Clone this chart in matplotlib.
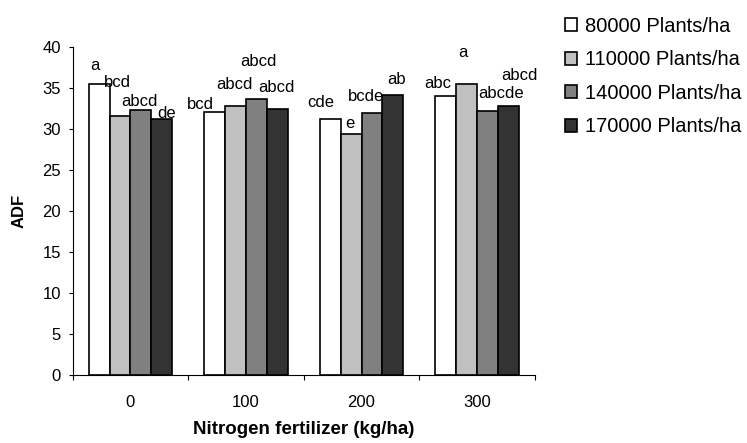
import matplotlib
matplotlib.use("Agg")
import matplotlib.pyplot as plt
import numpy as np

plt.rcParams['font.family'] = ['Liberation Sans', 'DejaVu Sans']

# nitrogen levels (kg/ha)
nitrogen = ["0", "100", "200", "300"]

# ADF per plant density
series_names = ["80000 Plants/ha", "110000 Plants/ha", "140000 Plants/ha", "170000 Plants/ha"]
adf_80 = [35.5, 32.1, 31.2, 34.1]
adf_110 = [31.6, 32.9, 29.4, 35.5]
adf_140 = [32.4, 33.7, 32.0, 32.2]
adf_170 = [31.2, 32.5, 34.2, 32.8]

# significance letters
let_80 = ["a", "bcd", "cde", "abc"]
let_110 = ["bcd", "abcd", "e", "a"]
let_140 = ["abcd", "abcd", "bcde", "abcde"]
let_170 = ["de", "abcd", "ab", "abcd"]

series = [adf_80, adf_110, adf_140, adf_170]
letters = [let_80, let_110, let_140, let_170]
colors = ["white", "#c0c0c0", "#808080", "#333333"]

# label offsets from bar top (pixels) - placed by hand in the original
offs = [
    [(-4.5, 19), (-14, 7.7), (-9.3, 17), (-8.6, 12.4)],
    [(-3, 34), (-0.7, 21.5), (-1.5, 11), (-4, 31.5)],
    [(-1.4, 8), (2.5, 37), (-6.3, 16), (13.8, 18)],
    [(4.8, 6), (-0.8, 21.5), (3.6, 15), (10.7, 30.6)],
]

fig = plt.figure(figsize=(7.47, 4.43), dpi=100)
ax = fig.add_axes([0.0973, 0.1528, 0.6187, 0.7404])

x = np.arange(len(nitrogen))
w = 0.18
for i in range(4):
    pos = x + (i - 1.5) * w
    ax.bar(pos, series[i], width=w, color=colors[i], edgecolor="black",
           linewidth=1.2, label=series_names[i], zorder=2)
    for j in range(len(x)):
        ax.annotate(letters[i][j], (pos[j], series[i][j]),
                    xytext=offs[i][j], textcoords="offset pixels",
                    ha="center", va="center", fontsize=12)

ax.set_xlim(-0.5, 3.5)
ax.set_ylim(0, 40)
ax.set_yticks(range(0, 41, 5))
ax.set_xticks(np.arange(-0.5, 3.6, 1))
ax.set_xticklabels([])
ax.set_xticks(x, minor=True)
ax.set_xticklabels(nitrogen, minor=True)
ax.tick_params(axis="x", which="major", direction="out", length=3.5, width=0.8)
ax.tick_params(axis="x", which="minor", length=0, pad=14, labelsize=12)
ax.tick_params(axis="y", direction="out", length=3, width=0.8, pad=5.5, labelsize=12)

for s in ["top", "right"]:
    ax.spines[s].set_visible(False)
for s in ["left", "bottom"]:
    ax.spines[s].set_linewidth(0.8)

ax.set_ylabel("ADF", fontsize=12, fontweight="bold")
ax.yaxis.set_label_coords(-0.099, 0.5)
ax.set_xlabel("Nitrogen fertilizer (kg/ha)", fontsize=13.5, fontweight="bold")
ax.xaxis.set_label_coords(0.5, -0.14)

fig.legend(loc="upper left", bbox_to_anchor=(0.745, 0.98), frameon=False,
           fontsize=14.5, handlelength=0.6, handleheight=0.6,
           handletextpad=0.4, labelspacing=0.72, borderaxespad=0)

fig.savefig("out.png", dpi=100)
